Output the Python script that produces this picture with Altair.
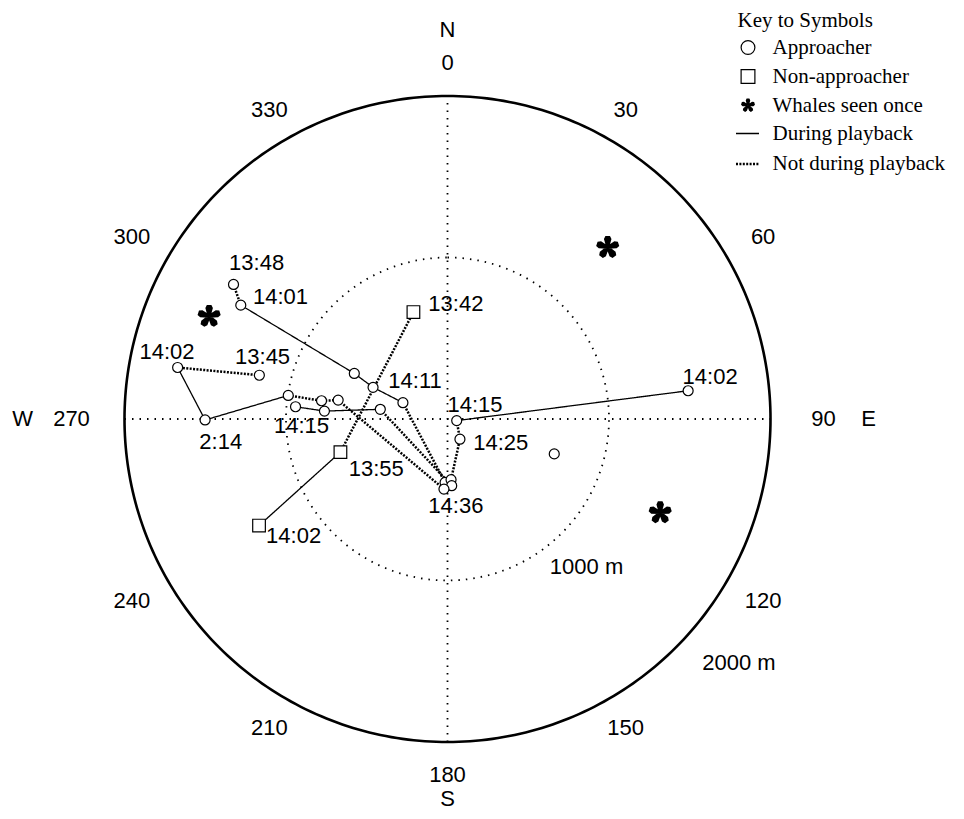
import math
import altair as alt
import pandas as pd

# ---------------- data (metres east / metres north of the playback site) -------------
# approacher positions
app_x = [-1325, -1280, -577, -461, -276, -15, 22, 26, -22,
         -1165, -1671, -1501, -986, -780, -677,
         -941, -762, -416,
         1490, 57, 77, 661]
app_y = [833, 705, 282, 196, 101, -393, -376, -413, -434,
         271, 319, -6, 146, 113, 117,
         76, 49, 60,
         175, -10, -125, -216]
# non-approacher positions
non_x = [-211, -663, -1167]
non_y = [662, -205, -660]
# whales seen once
star_x = [-1476, 992, 1317]
star_y = [636, 1063, -580]

# track segments: style, which set of points, point indices in order
path_style = ["Not during playback", "During playback", "Not during playback",
              "Not during playback", "During playback", "Not during playback",
              "Not during playback", "During playback", "Not during playback",
              "During playback", "Not during playback",
              "Not during playback", "During playback"]
path_set = ["A", "A", "A", "A", "A", "A", "A", "A", "A", "A", "A", "N", "N"]
path_idx = [[0, 1], [1, 2, 3, 4], [4, 5],
            [9, 10], [10, 11, 12], [12, 13, 14], [14, 8],
            [15, 16, 17], [17, 7],
            [18, 19], [19, 20, 6],
            [0, 1], [1, 2]]

# time labels
time_text = ["13:48", "14:01", "13:42", "14:02", "13:45", "14:11", "2:14",
             "14:15", "13:55", "14:36", "14:02", "14:15", "14:25", "14:02"]
time_x = [-1182, -1034, 52, -1737, -1145, -201, -1404,
          -904, -441, 52, -953, 170, 330, 1626]
time_y = [963, 753, 710, 413, 383, 235, -142,
          -43, -309, -537, -722, 86, -148, 262]

bearing_deg = [0, 30, 60, 90, 120, 150, 180, 210, 240, 270, 300, 330]
bearing_text = [str(b) for b in bearing_deg]

compass_text = ["N", "E", "S", "W"]
compass_x = [0, 2607, 0, -2631]
compass_y = [2406, 0, -2350, 0]

ring_text = ["1000 m", "2000 m"]
ring_x = [861, 1805]
ring_y = [-919, -1512]

kinds = ["Approacher", "Non-approacher", "Whales seen once"]
styles = ["During playback", "Not during playback"]

# ---------------- geometry helpers -------------
R_OUT, R_IN = 2000, 1000
PX = 323.0 / 2000.0  # pixels per metre

ring_rows = []
for name, r in (("outer", R_OUT), ("inner", R_IN)):
    for k in range(0, 361, 1):
        a = math.radians(k)
        ring_rows.append({"ring": name, "k": k, "x": r * math.sin(a), "y": r * math.cos(a)})
ring_df = pd.DataFrame(ring_rows)

cross_df = pd.DataFrame([
    {"seg": "v", "k": 0, "x": 0, "y": -R_OUT}, {"seg": "v", "k": 1, "x": 0, "y": R_OUT},
    {"seg": "h", "k": 0, "x": -R_OUT, "y": 0}, {"seg": "h", "k": 1, "x": R_OUT, "y": 0},
])

track_rows = []
for s, (st, ps, idx) in enumerate(zip(path_style, path_set, path_idx)):
    xs, ys = (app_x, app_y) if ps == "A" else (non_x, non_y)
    for k, i in enumerate(idx):
        track_rows.append({"seg": s, "k": k, "x": xs[i], "y": ys[i], "style": st})
track_df = pd.DataFrame(track_rows)

app_df = pd.DataFrame({"kind": kinds[0], "x": app_x, "y": app_y})
non_df = pd.DataFrame({"kind": kinds[1], "x": non_x, "y": non_y})
star_df = pd.DataFrame({"kind": kinds[2], "x": star_x, "y": star_y})

lab_df = pd.DataFrame({"t": time_text, "x": time_x, "y": time_y})

brows = []
for b, t in zip(bearing_deg, bearing_text):
    a = math.radians(b)
    rpx = 356 + 20 * abs(math.sin(a)) ** 6
    brows.append({"t": t, "x": rpx / PX * math.sin(a), "y": rpx / PX * math.cos(a)})
bear_df = pd.DataFrame(brows)
comp_df = pd.DataFrame({"t": compass_text, "x": compass_x, "y": compass_y})
ringlab_df = pd.DataFrame({"t": ring_text, "x": ring_x, "y": ring_y})

# heavy asterisk path (5 tapered arms)
def star_path():
    parts = []
    for j in range(5):
        th = math.radians(j * 72)
        ux, uy = math.sin(th), -math.cos(th)
        nx, ny = -uy, ux
        pts = [(0.13 * nx, 0.13 * ny),
               (ux * 0.72 + 0.33 * nx, uy * 0.72 + 0.33 * ny),
               (ux * 1.0 + 0.20 * nx, uy * 1.0 + 0.20 * ny),
               (ux * 1.0 - 0.20 * nx, uy * 1.0 - 0.20 * ny),
               (ux * 0.72 - 0.33 * nx, uy * 0.72 - 0.33 * ny),
               (-0.13 * nx, -0.13 * ny)]
        parts.append("M" + "L".join(f"{px:.3f},{py:.3f}" for px, py in pts) + "Z")
    return "".join(parts)

STAR = star_path()

# ---------------- chart -------------
sc = alt.Scale(domain=[-R_OUT, R_OUT], nice=False, zero=False)
X = alt.X("x:Q", scale=sc, axis=None)
Y = alt.Y("y:Q", scale=sc, axis=None)

outer = alt.Chart(ring_df).transform_filter(alt.datum.ring == "outer").mark_line(
    stroke="black", strokeWidth=2.6).encode(x=X, y=Y, order="k:Q")
inner = alt.Chart(ring_df).transform_filter(alt.datum.ring == "inner").mark_line(
    stroke="black", strokeWidth=1.8, strokeDash=[1.5, 6]).encode(x=X, y=Y, order="k:Q")
cross = alt.Chart(cross_df).mark_line(
    stroke="black", strokeWidth=1.8, strokeDash=[1.5, 6]).encode(
    x=X, y=Y, detail="seg:N", order="k:Q")

line_legend = alt.Legend(
    title=None, orient="none", legendX=610, legendY=25, symbolType="stroke",
    symbolStrokeColor="black", symbolSize=529, labelFont="Liberation Serif",
    labelFontSize=21, labelColor="black", labelOffset=12, labelLimit=400,
    rowPadding=7, padding=0)

tracks = alt.Chart(track_df).mark_line(stroke="black").encode(
    x=X, y=Y, detail="seg:N", order="k:Q",
    strokeDash=alt.StrokeDash("style:N", scale=alt.Scale(domain=styles, range=[[1, 0], [2, 1.4]]),
                              legend=line_legend),
    strokeWidth=alt.StrokeWidth("style:N", scale=alt.Scale(domain=styles, range=[1.3, 2.5]),
                                legend=line_legend),
)

pt_legend = alt.Legend(
    title="Key to Symbols", orient="none", legendX=613, legendY=-86,
    titleFont="Liberation Serif", titleFontSize=21, titleFontWeight="normal",
    titleColor="black", titlePadding=6, titleLimit=400, labelFont="Liberation Serif",
    labelFontSize=21, labelColor="black", labelOffset=14, labelLimit=400,
    rowPadding=7, padding=0, symbolStrokeWidth=1.2, symbolSize=190)

shape_enc = alt.Shape("kind:N", scale=alt.Scale(domain=kinds, range=["circle", "square", STAR]),
                      legend=pt_legend)
fill_enc = alt.Fill("kind:N", scale=alt.Scale(domain=kinds, range=["white", "white", "black"]),
                    legend=pt_legend)
stroke_enc = alt.Stroke("kind:N", scale=alt.Scale(domain=kinds, range=["black", "black", "transparent"]),
                        legend=pt_legend)

def pts(df, size):
    return alt.Chart(df).mark_point(strokeWidth=1.2, opacity=1, size=size).encode(
        x=X, y=Y, shape=shape_enc, fill=fill_enc, stroke=stroke_enc)

circles = pts(app_df, 100)
squares = pts(non_df, 160)
stars = pts(star_df, 520)

txt = dict(font="Liberation Sans", fontSize=22, color="black", align="center", baseline="middle")
labels = alt.Chart(lab_df).mark_text(**txt).encode(x=X, y=Y, text="t:N")
bears = alt.Chart(bear_df).mark_text(**txt).encode(x=X, y=Y, text="t:N")
comps = alt.Chart(comp_df).mark_text(**txt).encode(x=X, y=Y, text="t:N")
ringlabs = alt.Chart(ringlab_df).mark_text(**txt).encode(x=X, y=Y, text="t:N")

chart = alt.layer(outer, inner, cross, tracks, circles, squares, stars,
                  labels, bears, comps, ringlabs).properties(
    width=646, height=646,
    autosize=alt.AutoSizeParams(type="none"),
    padding={"left": 116.5, "top": 88, "right": 185.5, "bottom": 69},
).configure(background="white").configure_view(strokeWidth=0, stroke="transparent")

chart.save("out.html", embed_options={"renderer": "svg", "actions": False})
